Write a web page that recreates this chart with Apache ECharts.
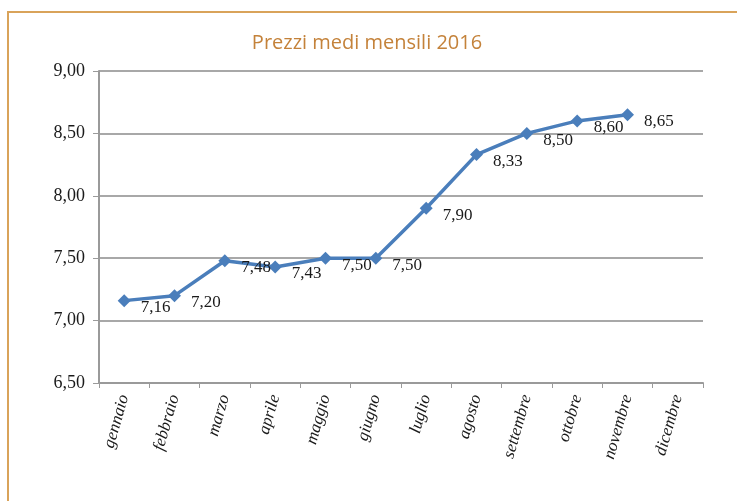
<!DOCTYPE html>
<html lang="it">
<head>
  <meta charset="UTF-8">
  <title>Prezzi medi mensili 2016</title>
  <style>
    body { margin: 0; background: #fff; }
    #frame {
      position: absolute;
      left: 7px; top: 11px;
      width: 740px; height: 500px;
      border: 2px solid #d9a35a;
      box-sizing: border-box;
    }
    #chart { position: absolute; left: 0; top: 0; width: 737px; height: 501px; }
  </style>
  <script src="https://cdn.jsdelivr.net/npm/echarts@6/dist/echarts.min.js"></script>
</head>
<body>
<div id="frame"></div>
<div id="chart"></div>
<script>
  // dati
  var mesi = ['gennaio', 'febbraio', 'marzo', 'aprile', 'maggio', 'giugno',
              'luglio', 'agosto', 'settembre', 'ottobre', 'novembre', 'dicembre'];
  var prezzi = [7.16, 7.20, 7.48, 7.43, 7.50, 7.50, 7.90, 8.33, 8.50, 8.60, 8.65, null];

  function virgola(v) {
    return Number(v).toFixed(2).replace('.', ',');
  }

  var myChart = echarts.init(document.getElementById('chart'));
  var option = {
    animation: false,
    title: {
      text: 'Prezzi medi mensili 2016',
      left: 362,
      top: 28,
      textAlign: 'center',
      textStyle: {
        fontFamily: 'Open Sans',
        fontWeight: 'normal',
        fontSize: 20,
        color: '#c4823a'
      }
    },
    grid: { left: 99, right: 34, top: 71, bottom: 118 },
    xAxis: {
      type: 'category',
      data: mesi,
      boundaryGap: true,
      axisLine: { lineStyle: { color: '#9a9a9a', width: 2 } },
      axisTick: { show: true, length: 5, lineStyle: { color: '#9a9a9a' } },
      axisLabel: {
        interval: 0,
        rotate: 74,
        margin: 12,
        fontFamily: 'Liberation Serif',
        fontStyle: 'italic',
        fontSize: 17,
        color: '#1a1a1a'
      }
    },
    yAxis: {
      type: 'value',
      min: 6.5,
      max: 9,
      interval: 0.5,
      axisLine: { show: true, lineStyle: { color: '#9a9a9a', width: 2 } },
      axisTick: { show: true, length: 6, lineStyle: { color: '#9a9a9a' } },
      splitLine: { lineStyle: { color: '#a8a8a8', width: 2 } },
      axisLabel: {
        margin: 14,
        fontFamily: 'Liberation Serif',
        fontSize: 18,
        color: '#1a1a1a',
        formatter: virgola
      }
    },
    series: [{
      type: 'line',
      data: prezzi,
      symbol: 'diamond',
      symbolSize: 13,
      itemStyle: { color: '#4a7ebb' },
      lineStyle: { color: '#4a7ebb', width: 3.5 },
      label: {
        show: true,
        position: 'right',
        distance: 10,
        offset: [0, 7],
        fontFamily: 'Liberation Serif',
        fontSize: 17,
        color: '#1a1a1a',
        formatter: function (p) { return virgola(p.value); }
      }
    }]
  };
  myChart.setOption(option);
</script>
</body>
</html>
